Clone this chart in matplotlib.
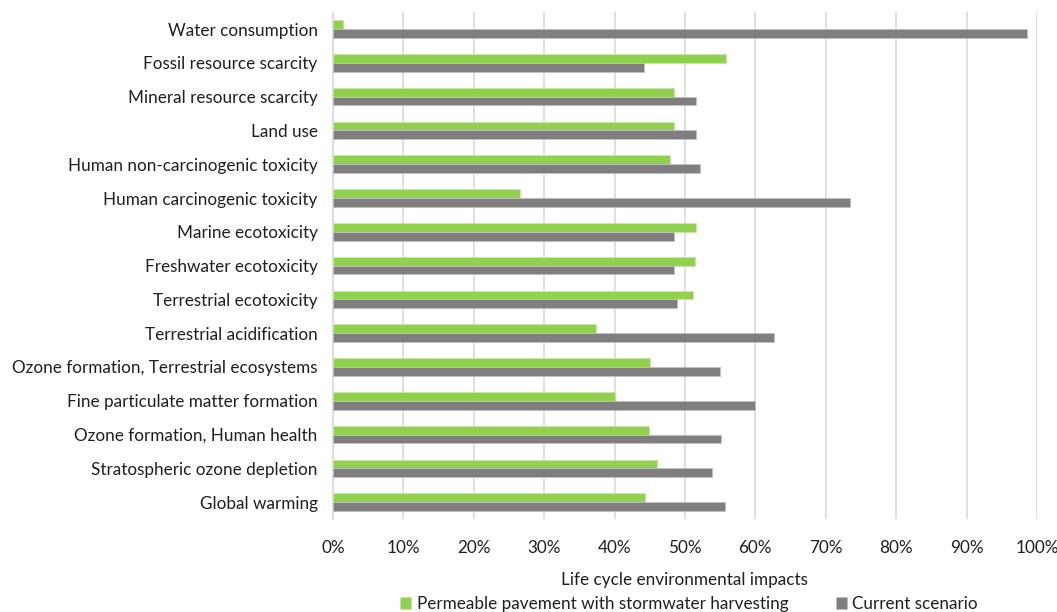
import matplotlib
matplotlib.use("Agg")
import matplotlib.pyplot as plt
import numpy as np

plt.rcParams['font.family'] = ['Lato', 'DejaVu Sans']

categories = [
    "Water consumption",
    "Fossil resource scarcity",
    "Mineral resource scarcity",
    "Land use",
    "Human non-carcinogenic toxicity",
    "Human carcinogenic toxicity",
    "Marine ecotoxicity",
    "Freshwater ecotoxicity",
    "Terrestrial ecotoxicity",
    "Terrestrial acidification",
    "Ozone formation, Terrestrial ecosystems",
    "Fine particulate matter formation",
    "Ozone formation, Human health",
    "Stratospheric ozone depletion",
    "Global warming",
]

# shares of the combined impact (%)
permeable = [1.4, 55.8, 48.4, 48.4, 47.9, 26.5, 51.6, 51.5, 51.1, 37.4, 45.1, 40.0, 44.9, 46.1, 44.3]
current = [98.6, 44.2, 51.6, 51.6, 52.2, 73.5, 48.4, 48.5, 48.9, 62.6, 55.0, 60.0, 55.1, 53.8, 55.7]

xticks = np.arange(0, 101, 10)

green = "#92D050"
grey = "#7F7F7F"
text_col = "#1f1f1f"
fs = 12.3

fig = plt.figure(figsize=(10.57, 6.12), dpi=100)
ax = fig.add_axes([0.315, 0.152, 0.666, 0.828])

y = np.arange(len(categories))
h = 0.26
ax.barh(y - h / 2, permeable, height=h, color=green, edgecolor="#c8e8a8", linewidth=0.6,
        label="Permeable pavement with stormwater harvesting", zorder=3)
ax.barh(y + h / 2, current, height=h, color=grey, edgecolor="#c0c0c0", linewidth=0.6,
        label="Current scenario", zorder=3)

ax.set_ylim(len(categories) - 0.5, -0.5)
ax.set_xlim(0, 100)
ax.set_yticks(y)
ax.set_yticklabels(categories, fontsize=fs, color=text_col)
ax.set_xticks(xticks)
ax.set_xticklabels([f"{t}%" for t in xticks], fontsize=fs, color=text_col)
ax.tick_params(axis="x", length=0, pad=15)
ax.tick_params(axis="y", length=0, pad=11)

ax.grid(axis="x", color="#d9d9d9", linewidth=1.2, zorder=0)
for s in ["top", "right", "bottom"]:
    ax.spines[s].set_visible(False)
ax.spines["left"].set_color("#d9d9d9")
ax.spines["left"].set_linewidth(1.2)

ax.set_xlabel("Life cycle environmental impacts", fontsize=fs, color=text_col, labelpad=12)

fig.legend(loc="lower center", bbox_to_anchor=(0.652, -0.025), ncol=2, frameon=False,
           fontsize=fs, handlelength=0.65, handleheight=0.65, handletextpad=0.3,
           columnspacing=2.8, labelcolor=text_col)

fig.savefig("out.png", dpi=100)
